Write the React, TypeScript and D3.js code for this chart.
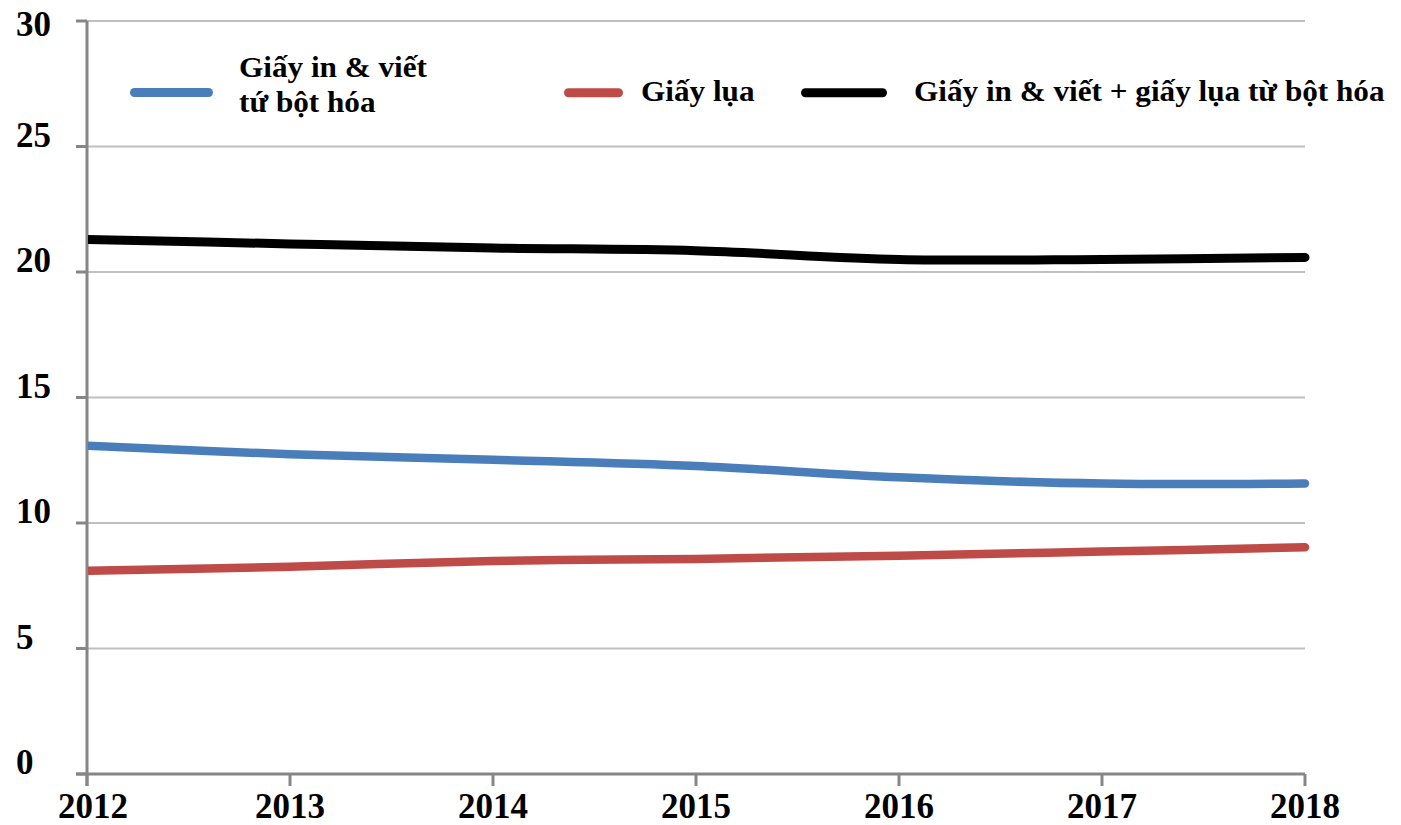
import React from "react";
import * as d3 from "d3";

const years = ["2012", "2013", "2014", "2015", "2016", "2017", "2018"];
const yTicks = [0, 5, 10, 15, 20, 25, 30];
const printingWriting = [13.08, 12.74, 12.52, 12.27, 11.82, 11.57, 11.57];
const tissue = [8.1, 8.26, 8.49, 8.57, 8.7, 8.86, 9.03];
const total = [21.3, 21.12, 20.96, 20.85, 20.5, 20.5, 20.58];

const seriesNames = ["Giấy in & viết|tứ bột hóa", "Giấy lụa", "Giấy in & viết + giấy lụa từ bột hóa"];
const seriesColors = ["#4a7ebb", "#be4b48", "#000000"];

const W = 1401;
const H = 825;
const FONT = "'Liberation Serif', 'Times New Roman', Tinos, serif";

export default function App() {
  const x = d3.scalePoint<string>().domain(years).range([87, 1305]);
  const y = d3.scaleLinear().domain([0, 30]).range([774, 21]);
  const line = d3
    .line<number>()
    .x((_, i) => x(years[i]) as number)
    .y((d) => y(d))
    .curve(d3.curveCatmullRom.alpha(0.5));

  const series = [printingWriting, tissue, total];
  const widths = [8.5, 8.5, 9];

  const T = (props: { x: number; y: number; size: number; sx: number; anchor?: string; children: React.ReactNode }) => (
    <text
      transform={`translate(${props.x},${props.y}) scale(${props.sx},1)`}
      fontFamily={FONT}
      fontWeight="bold"
      fontSize={props.size}
      textAnchor={props.anchor || "start"}
      fill="#000"
    >
      {props.children}
    </text>
  );

  const legend = [
    { x1: 130, x2: 213, ly: 92.5, tx: 239, lines: seriesNames[0].split("|"), ty: 77 },
    { x1: 564, x2: 623, ly: 92.7, tx: 641, lines: seriesNames[1].split("|"), ty: 101 },
    { x1: 801, x2: 887, ly: 92.7, tx: 914, lines: seriesNames[2].split("|"), ty: 101 },
  ];

  return (
    <svg width={W} height={H} style={{ position: "absolute", left: 0, top: 0, background: "#fff" }}>
      <defs>
        <clipPath id="plot">
          <rect x={88} y={0} width={W - 88} height={H} />
        </clipPath>
      </defs>
      {yTicks.filter((t) => t > 0).map((t) => (
        <line key={t} x1={87} x2={1305} y1={y(t)} y2={y(t)} stroke="#c0c0c0" strokeWidth={2} />
      ))}
      <line x1={87} x2={87} y1={y(30)} y2={786} stroke="#868686" strokeWidth={3} />
      <line x1={76} x2={1305} y1={y(0)} y2={y(0)} stroke="#868686" strokeWidth={3} />
      {yTicks.map((t) => (
        <line key={"yt" + t} x1={76} x2={87} y1={y(t)} y2={y(t)} stroke="#868686" strokeWidth={3} />
      ))}
      {years.map((yr) => (
        <line key={"xt" + yr} x1={x(yr)} x2={x(yr)} y1={y(0)} y2={786} stroke="#868686" strokeWidth={3} />
      ))}
      {yTicks.map((t) => (
        <T key={"yl" + t} x={16} y={Math.max(y(t), 36)} size={35} sx={1}>
          {t}
        </T>
      ))}
      {years.map((yr) => (
        <T key={"xl" + yr} x={Math.max(x(yr) as number, 93)} y={818} size={35} sx={1} anchor="middle">
          {yr}
        </T>
      ))}
      <g clipPath="url(#plot)">
        {series.map((s, i) => (
          <path
            key={i}
            d={line(s) || ""}
            fill="none"
            stroke={seriesColors[i]}
            strokeWidth={widths[i]}
            strokeLinecap="round"
            strokeLinejoin="round"
          />
        ))}
      </g>
      {legend.map((l, i) => (
        <g key={"lg" + i}>
          <line
            x1={l.x1 + 4.5}
            x2={l.x2 - 4.5}
            y1={l.ly}
            y2={l.ly}
            stroke={seriesColors[i]}
            strokeWidth={9}
            strokeLinecap="round"
          />
          {l.lines.map((txt, j) => (
            <T key={j} x={l.tx} y={l.ty + j * 35} size={30} sx={1.04}>
              {txt}
            </T>
          ))}
        </g>
      ))}
    </svg>
  );
}
